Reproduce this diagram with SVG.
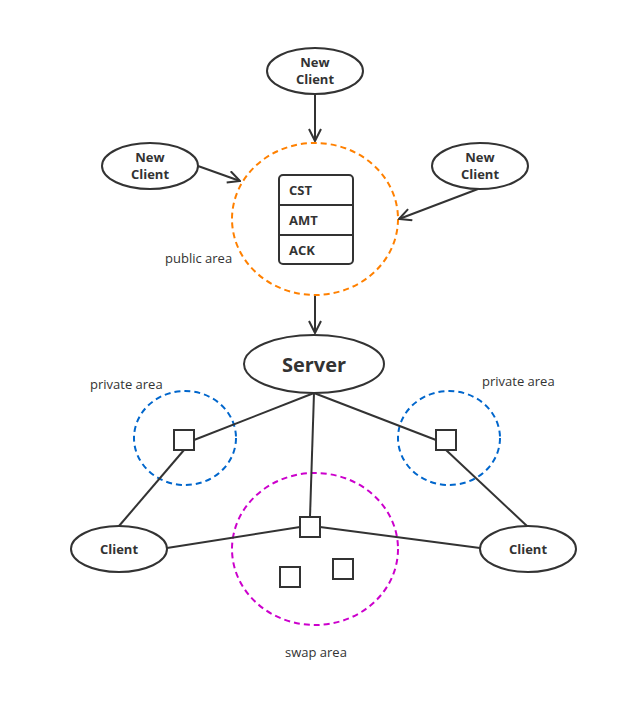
<svg xmlns="http://www.w3.org/2000/svg" width="631" height="703" viewBox="0 0 631 703">
<defs>
<style>
.n{fill:#fff;stroke:#333;stroke-width:2}
.sq{fill:#fff;stroke:#333;stroke-width:2}
.t{font-family:"Open Sans","Noto Sans",sans-serif;font-weight:bold;font-size:13px;fill:#333;text-anchor:middle}
.l{font-family:"Open Sans","Noto Sans",sans-serif;font-size:13px;fill:#333}
.e{stroke:#333;stroke-width:2;fill:none}
.area{fill:none;stroke-width:2;stroke-dasharray:6 4}
</style>
<marker id="ar" viewBox="0 0 14 14" refX="13" refY="7" markerWidth="14" markerHeight="14" markerUnits="userSpaceOnUse" orient="auto">
<path d="M1,1 L13,7 L1,13" fill="none" stroke="#333" stroke-width="2"/>
</marker>
</defs>
<rect width="631" height="703" fill="#fff"/>
<g id="areas">
<ellipse id="public-area" cx="315" cy="219" rx="83" ry="76" class="area" stroke="#ff8000"/>
<ellipse id="private-left" cx="185" cy="438" rx="51" ry="47" class="area" stroke="#0066cc"/>
<ellipse id="private-right" cx="449" cy="438" rx="51" ry="47" class="area" stroke="#0066cc"/>
<ellipse id="swap-area" cx="315" cy="549" rx="83" ry="76" class="area" stroke="#cc00cc"/>
</g>
<g id="connectors">
<line x1="315" y1="94" x2="315" y2="141" class="e" marker-end="url(#ar)"/>
<line x1="198" y1="166" x2="240" y2="181" class="e" marker-end="url(#ar)"/>
<line x1="478" y1="189" x2="399" y2="219" class="e" marker-end="url(#ar)"/>
<line x1="315" y1="296" x2="315" y2="333" class="e" marker-end="url(#ar)"/>
<line x1="314" y1="393" x2="194" y2="440" class="e"/>
<line x1="314" y1="393" x2="310" y2="517" class="e"/>
<line x1="314" y1="393" x2="436" y2="440" class="e"/>
<line x1="184" y1="450" x2="119" y2="526" class="e"/>
<line x1="446" y1="450" x2="527" y2="526" class="e"/>
<line x1="167" y1="548" x2="300" y2="527" class="e"/>
<line x1="480" y1="548" x2="320" y2="527" class="e"/>
</g>
<g id="new-client-top">
<ellipse cx="315" cy="71" rx="48" ry="23" class="n"/>
<text x="315" y="67" class="t">New</text>
<text x="315" y="84" class="t">Client</text>
</g>
<g id="new-client-left">
<ellipse cx="150" cy="166" rx="48" ry="23" class="n"/>
<text x="150" y="162" class="t">New</text>
<text x="150" y="179" class="t">Client</text>
</g>
<g id="new-client-right">
<ellipse cx="480" cy="166" rx="48" ry="23" class="n"/>
<text x="480" y="162" class="t">New</text>
<text x="480" y="179" class="t">Client</text>
</g>
<g id="queue">
<rect x="279" y="175" width="74" height="89" rx="4" class="n"/>
<line x1="279" y1="205" x2="353" y2="205" class="e"/>
<line x1="279" y1="235" x2="353" y2="235" class="e"/>
<text x="289" y="195" class="t" style="text-anchor:start">CST</text>
<text x="289" y="225" class="t" style="text-anchor:start">AMT</text>
<text x="289" y="255" class="t" style="text-anchor:start">ACK</text>
</g>
<g id="server">
<ellipse cx="314" cy="364" rx="70" ry="29" class="n"/>
<text x="314" y="372" class="t" style="font-size:20px">Server</text>
</g>
<g id="sq-left"><rect x="174" y="430" width="20" height="20" class="sq"/></g>
<g id="sq-right"><rect x="436" y="430" width="20" height="20" class="sq"/></g>
<g id="sq-swap1"><rect x="300" y="517" width="20" height="20" class="sq"/></g>
<g id="sq-swap2"><rect x="280" y="567" width="20" height="20" class="sq"/></g>
<g id="sq-swap3"><rect x="333" y="559" width="20" height="20" class="sq"/></g>
<g id="client-left">
<ellipse cx="119" cy="549" rx="48" ry="23" class="n"/>
<text x="119" y="554" class="t">Client</text>
</g>
<g id="client-right">
<ellipse cx="528" cy="549" rx="48" ry="23" class="n"/>
<text x="528" y="554" class="t">Client</text>
</g>
<g id="labels">
<text x="165" y="263" class="l">public area</text>
<text x="90" y="389" class="l">private area</text>
<text x="482" y="386" class="l">private area</text>
<text x="285" y="657" class="l">swap area</text>
</g>
</svg>
